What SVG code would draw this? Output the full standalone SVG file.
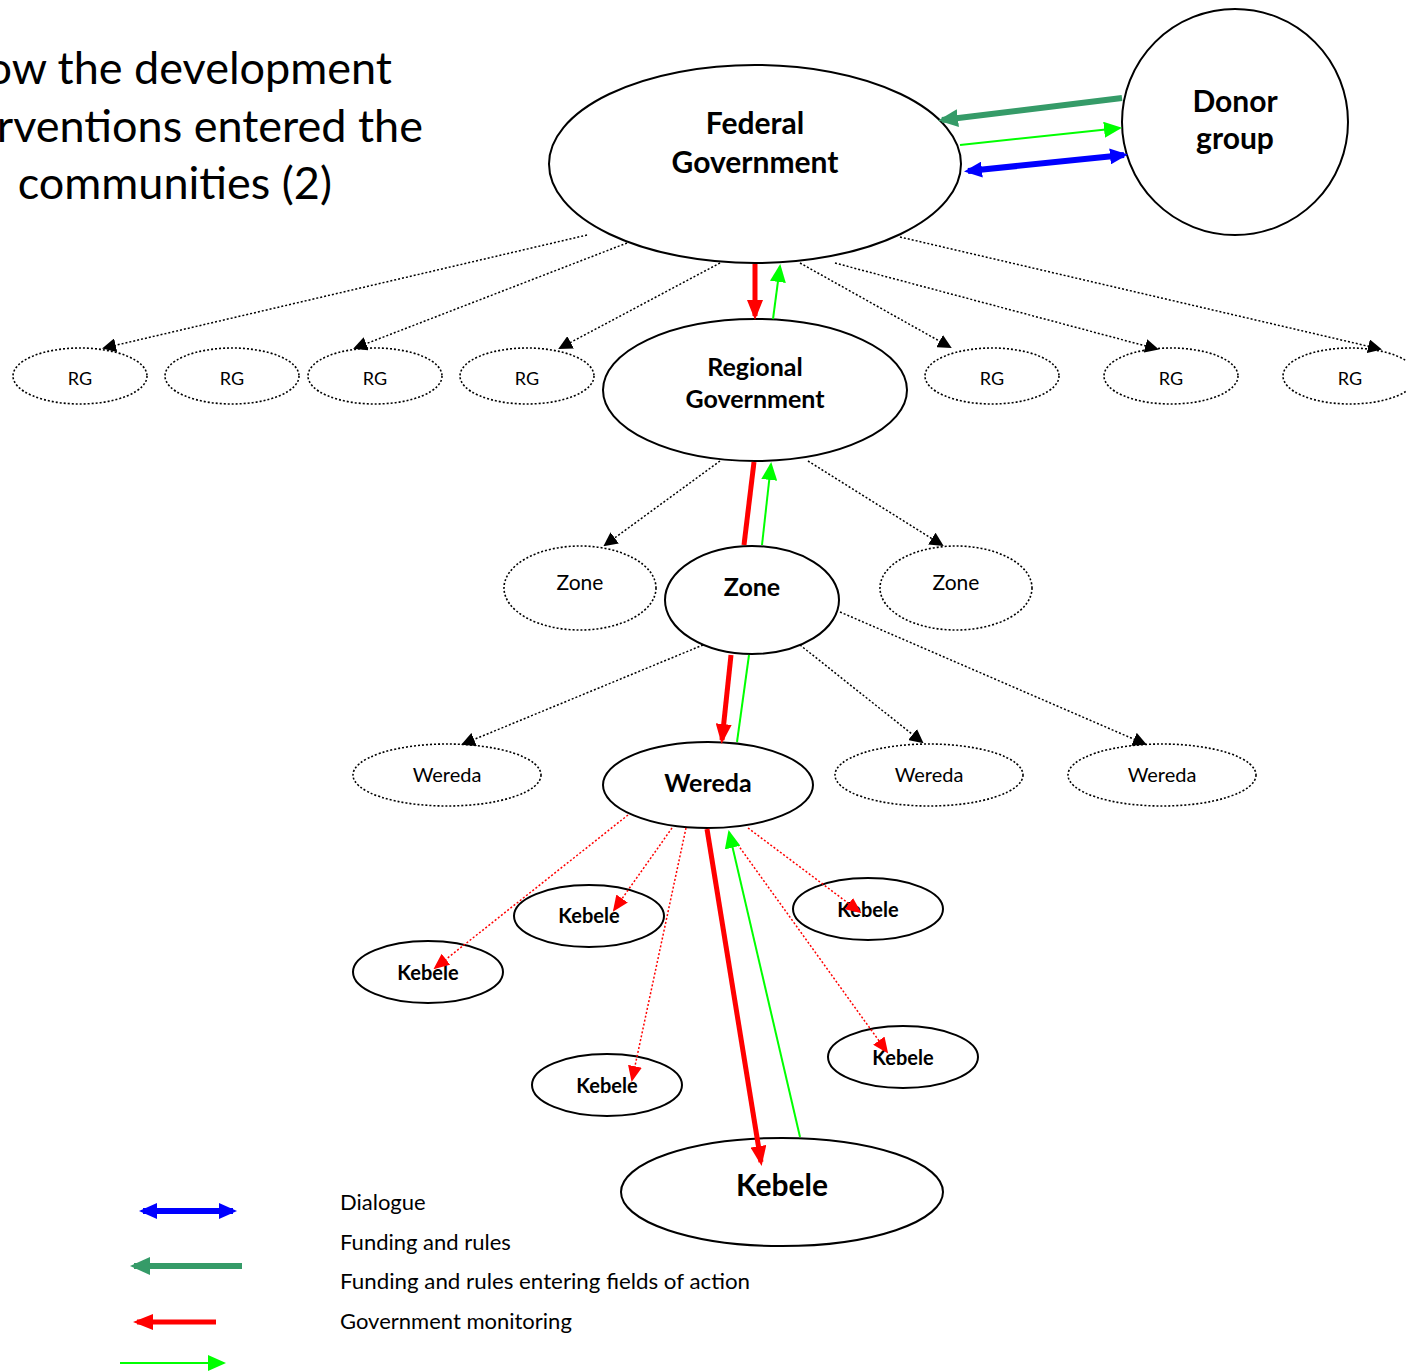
<svg xmlns="http://www.w3.org/2000/svg" width="1406" height="1372" viewBox="0 0 1406 1372">
<style>
text{font-family:Lato,"Open Sans","Liberation Sans",sans-serif;fill:#000;}
.t{font-size:45px;}
.b{font-weight:bold;text-anchor:middle;}
.n{text-anchor:middle;}
.solid{fill:#fff;stroke:#000;stroke-width:2;}
.dot{fill:#fff;stroke:#000;stroke-width:1.6;stroke-dasharray:2 2;}
.dl{fill:none;stroke:#000;stroke-width:1.5;stroke-dasharray:2 2;marker-end:url(#mBlack);}
.rl{fill:none;stroke:#ff0000;stroke-width:1.5;stroke-dasharray:2 2;marker-end:url(#mRed);}
.red{fill:none;stroke:#ff0000;stroke-width:5;}
.lime{fill:none;stroke:#00ff00;stroke-width:2;}
.dg{fill:none;stroke:#359b68;stroke-width:6;}
.blue{fill:none;stroke:#0000ff;stroke-width:6;}
.lg{font-size:22px;}
</style>
<defs>
<marker id="mBlack" markerUnits="userSpaceOnUse" viewBox="0 0 14 14" markerWidth="14" markerHeight="14" refX="12" refY="7" orient="auto"><path d="M0,0 L14,7 L0,14 z" fill="#000"/></marker>
<marker id="mRed" markerUnits="userSpaceOnUse" viewBox="0 0 16 14" markerWidth="16" markerHeight="14" refX="14" refY="7" orient="auto"><path d="M0,0 L16,7 L0,14 z" fill="#ff0000"/></marker>
<marker id="mRedT" markerUnits="userSpaceOnUse" viewBox="0 0 20 16" markerWidth="20" markerHeight="16" refX="16" refY="8" orient="auto"><path d="M0,0 L20,8 L0,16 z" fill="#ff0000"/></marker>
<marker id="mLime" markerUnits="userSpaceOnUse" viewBox="0 0 18 16" markerWidth="18" markerHeight="16" refX="16" refY="8" orient="auto"><path d="M0,0 L18,8 L0,16 z" fill="#00ff00"/></marker>
<marker id="mDg" markerUnits="userSpaceOnUse" viewBox="0 0 20 18" markerWidth="20" markerHeight="18" refX="16" refY="9" orient="auto"><path d="M0,0 L20,9 L0,18 z" fill="#359b68"/></marker>
<marker id="mBlue" markerUnits="userSpaceOnUse" viewBox="0 0 18 16" markerWidth="18" markerHeight="16" refX="14" refY="8" orient="auto-start-reverse"><path d="M0,0 L18,8 L0,16 z" fill="#0000ff"/></marker>
</defs>
<rect width="1406" height="1372" fill="#fff"/>

<g id="title">
<text class="t" x="392" y="84" text-anchor="end">ow the development</text>
<text class="t" x="423" y="142" text-anchor="end">rventions entered the</text>
<text class="t" x="332" y="199" text-anchor="end">communities (2)</text>
</g>

<g id="federal"><ellipse class="solid" cx="755" cy="164" rx="206" ry="99"/>
<text class="b" x="755" y="134" font-size="30">Federal</text>
<text class="b" x="755" y="173" font-size="30">Government</text></g>
<g id="donor"><ellipse class="solid" cx="1235" cy="122" rx="113" ry="113"/>
<text class="b" x="1235" y="112" font-size="30">Donor</text>
<text class="b" x="1235" y="149" font-size="30">group</text></g>

<g id="rg1"><ellipse class="dot" cx="80" cy="376" rx="67" ry="28"/><text class="n" x="80" y="385" font-size="18">RG</text></g>
<g id="rg2"><ellipse class="dot" cx="232" cy="376" rx="67" ry="28"/><text class="n" x="232" y="385" font-size="18">RG</text></g>
<g id="rg3"><ellipse class="dot" cx="375" cy="376" rx="67" ry="28"/><text class="n" x="375" y="385" font-size="18">RG</text></g>
<g id="rg4"><ellipse class="dot" cx="527" cy="376" rx="67" ry="28"/><text class="n" x="527" y="385" font-size="18">RG</text></g>
<g id="rg5"><ellipse class="dot" cx="992" cy="376" rx="67" ry="28"/><text class="n" x="992" y="385" font-size="18">RG</text></g>
<g id="rg6"><ellipse class="dot" cx="1171" cy="376" rx="67" ry="28"/><text class="n" x="1171" y="385" font-size="18">RG</text></g>
<g id="rg7"><ellipse class="dot" cx="1350" cy="376" rx="67" ry="28"/><text class="n" x="1350" y="385" font-size="18">RG</text></g>

<g id="regional"><ellipse class="solid" cx="755" cy="390" rx="152" ry="71"/>
<text class="b" x="755" y="376" font-size="25">Regional</text>
<text class="b" x="755" y="408" font-size="25">Government</text></g>

<g id="zone1"><ellipse class="dot" cx="580" cy="588" rx="76" ry="42"/><text class="n" x="580" y="590" font-size="21">Zone</text></g>
<g id="zone2"><ellipse class="solid" cx="752" cy="600" rx="87" ry="54"/><text class="b" x="752" y="596" font-size="25">Zone</text></g>
<g id="zone3"><ellipse class="dot" cx="956" cy="588" rx="76" ry="42"/><text class="n" x="956" y="590" font-size="21">Zone</text></g>

<g id="wereda1"><ellipse class="dot" cx="447" cy="775" rx="94" ry="31"/><text class="n" x="447" y="782" font-size="20">Wereda</text></g>
<g id="wereda2"><ellipse class="solid" cx="708" cy="785" rx="105" ry="43"/><text class="b" x="708" y="792" font-size="25">Wereda</text></g>
<g id="wereda3"><ellipse class="dot" cx="929" cy="775" rx="94" ry="31"/><text class="n" x="929" y="782" font-size="20">Wereda</text></g>
<g id="wereda4"><ellipse class="dot" cx="1162" cy="775" rx="94" ry="31"/><text class="n" x="1162" y="782" font-size="20">Wereda</text></g>

<g id="kebele1"><ellipse class="solid" cx="428" cy="972" rx="75" ry="31"/><text class="b" x="428" y="980" font-size="20">Kebele</text></g>
<g id="kebele2"><ellipse class="solid" cx="589" cy="916" rx="75" ry="31"/><text class="b" x="589" y="923" font-size="20">Kebele</text></g>
<g id="kebele3"><ellipse class="solid" cx="868" cy="909" rx="75" ry="31"/><text class="b" x="868" y="917" font-size="20">Kebele</text></g>
<g id="kebele4"><ellipse class="solid" cx="607" cy="1085" rx="75" ry="31"/><text class="b" x="607" y="1093" font-size="20">Kebele</text></g>
<g id="kebele5"><ellipse class="solid" cx="903" cy="1057" rx="75" ry="31"/><text class="b" x="903" y="1065" font-size="20">Kebele</text></g>
<g id="kebele6"><ellipse class="solid" cx="782" cy="1192" rx="161" ry="54"/><text class="b" x="782" y="1196" font-size="30">Kebele</text></g>

<g id="connectors">
<!-- Donor <-> Federal -->
<line class="dg" x1="1122" y1="98" x2="942" y2="120" marker-end="url(#mDg)"/>
<line class="lime" x1="960" y1="145" x2="1120" y2="128" marker-end="url(#mLime)"/>
<line class="blue" x1="968" y1="171" x2="1124" y2="155" marker-start="url(#mBlue)" marker-end="url(#mBlue)"/>
<!-- Federal -> RG -->
<line class="dl" x1="587" y1="235" x2="104" y2="348"/>
<line class="dl" x1="627" y1="243" x2="355" y2="348"/>
<line class="dl" x1="720" y1="263" x2="560" y2="348"/>
<line class="dl" x1="800" y1="263" x2="950" y2="347"/>
<line class="dl" x1="835" y1="263" x2="1157" y2="349"/>
<line class="dl" x1="900" y1="237" x2="1380" y2="349"/>
<line class="red" x1="755" y1="264" x2="755" y2="316" marker-end="url(#mRedT)"/>
<line class="lime" x1="773" y1="319" x2="780" y2="266" marker-end="url(#mLime)"/>
<!-- Regional -> Zone -->
<line class="dl" x1="720" y1="461" x2="605" y2="545"/>
<line class="dl" x1="808" y1="461" x2="942" y2="545"/>
<line class="red" x1="754" y1="462" x2="744" y2="545"/>
<line class="lime" x1="762" y1="545" x2="771" y2="464" marker-end="url(#mLime)"/>
<!-- Zone -> Wereda -->
<line class="dl" x1="703" y1="645" x2="463" y2="744"/>
<line class="dl" x1="800" y1="645" x2="922" y2="742"/>
<line class="dl" x1="840" y1="612" x2="1145" y2="744"/>
<line class="red" x1="731" y1="655" x2="722" y2="740" marker-end="url(#mRedT)"/>
<line class="lime" x1="737" y1="742" x2="749" y2="655"/>
<!-- Wereda -> Kebele -->
<line class="rl" x1="628" y1="815" x2="435" y2="968"/>
<line class="rl" x1="672" y1="828" x2="614" y2="910"/>
<line class="rl" x1="686" y1="828" x2="632" y2="1080"/>
<line class="rl" x1="748" y1="828" x2="860" y2="912"/>
<line class="rl" x1="733" y1="838" x2="887" y2="1052"/>
<line class="red" x1="707" y1="829" x2="761" y2="1162" marker-end="url(#mRedT)"/>
<line class="lime" x1="800" y1="1137" x2="729" y2="832" marker-end="url(#mLime)"/>
</g>

<g id="legend">
<line class="blue" x1="143" y1="1211" x2="233" y2="1211" marker-start="url(#mBlue)" marker-end="url(#mBlue)"/>
<line class="dg" x1="242" y1="1266" x2="134" y2="1266" marker-end="url(#mDg)"/>
<line class="red" x1="216" y1="1322" x2="137" y2="1322" marker-end="url(#mRedT)"/>
<line class="lime" x1="120" y1="1363" x2="224" y2="1363" marker-end="url(#mLime)"/>
<text class="lg" x="340" y="1210">Dialogue</text>
<text class="lg" x="340" y="1250">Funding and rules</text>
<text class="lg" x="340" y="1289" textLength="410" lengthAdjust="spacingAndGlyphs">Funding and rules entering fields of action</text>
<text class="lg" x="340" y="1329">Government monitoring</text>
</g>
</svg>
